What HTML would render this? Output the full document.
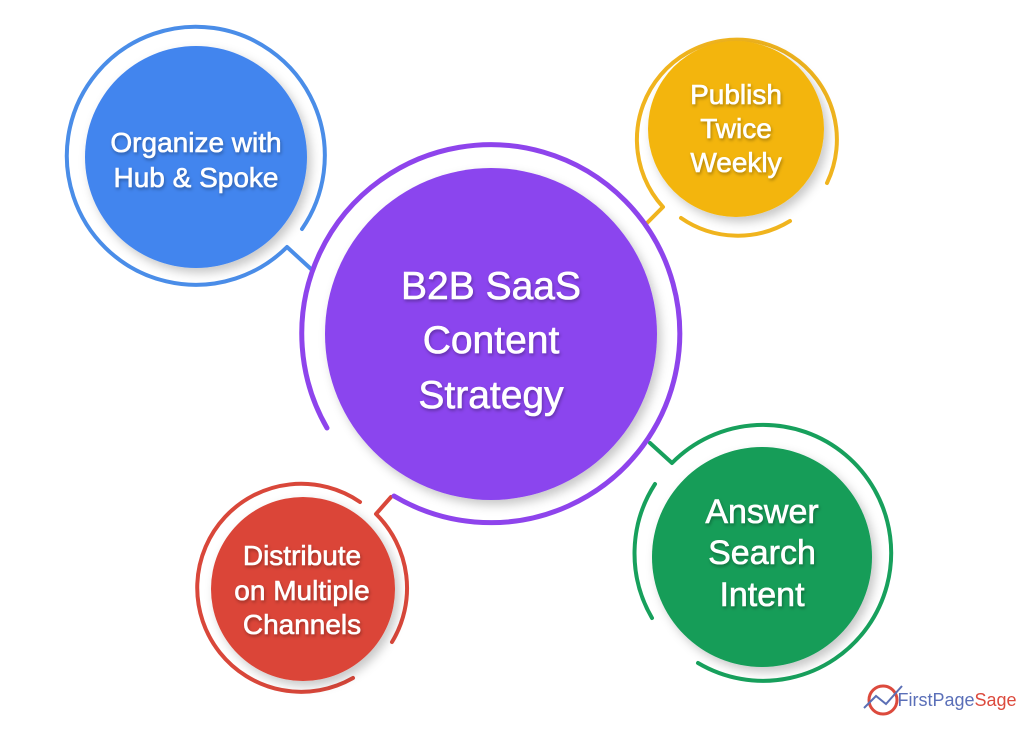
<!DOCTYPE html>
<html><head><meta charset="utf-8"><style>
html,body{margin:0;padding:0;background:#fff;}
svg text{font-family:"Liberation Sans","DejaVu Sans",sans-serif;font-weight:normal;fill:#fff;stroke:#fff;stroke-width:0.6;text-anchor:middle;}
</style></head><body>
<svg width="1024" height="724" viewBox="0 0 1024 724" xmlns="http://www.w3.org/2000/svg">
<defs>
<filter id="sh" x="-20%" y="-20%" width="150%" height="150%"><feDropShadow dx="4" dy="5" stdDeviation="5" flood-color="#000" flood-opacity="0.22"/></filter>
<filter id="ts"><feDropShadow dx="1" dy="2" stdDeviation="1.5" flood-color="#000" flood-opacity="0.3"/></filter>
</defs>
<g fill="none" stroke-width="4" stroke-linecap="round" stroke-linejoin="round">
<path d="M302,229 A129,129 0 1 0 287,247 L311,269" stroke="#4a8de8"/>
<path d="M645,225 L663,207 A100,100 0 1 1 827,183" stroke="#f0b41e"/>
<path d="M790,221 A100,100 0 0 1 681,218" stroke="#f0b41e"/>
<path d="M360,502 A104,104 0 1 0 353,678" stroke="#d9473a"/>
<path d="M392,642 A104,104 0 0 0 376,514 L391,497" stroke="#d9473a"/>
<path d="M650,443 L672,463 A128,128 0 1 1 698,663" stroke="#17a05c"/>
<path d="M652,618 A128,128 0 0 1 655,484" stroke="#17a05c"/>
<path d="M327,428 A189,189 0 1 1 394,496" stroke="#8e44ec" stroke-width="5"/>
</g>
<circle cx="196" cy="157" r="111" fill="#4285ee" filter="url(#sh)"/>
<circle cx="736" cy="129" r="88" fill="#f3b50f" filter="url(#sh)"/>
<circle cx="303" cy="589" r="92" fill="#db4437" filter="url(#sh)"/>
<circle cx="762" cy="557" r="110" fill="#129d58" filter="url(#sh)"/>
<circle cx="491" cy="334" r="166" fill="#8b44ee" filter="url(#sh)"/>
<g filter="url(#ts)">
<text x="196" y="152" font-size="28">Organize with</text>
<text x="196" y="187" font-size="28">Hub &amp; Spoke</text>
<text x="736" y="104" font-size="28">Publish</text>
<text x="736" y="138" font-size="28">Twice</text>
<text x="736" y="172" font-size="28">Weekly</text>
<text x="302" y="565" font-size="28">Distribute</text>
<text x="302" y="600" font-size="28">on Multiple</text>
<text x="302" y="634" font-size="28">Channels</text>
<text x="762" y="523" font-size="34">Answer</text>
<text x="762" y="564" font-size="34">Search</text>
<text x="762" y="606" font-size="34">Intent</text>
<text x="491" y="299" font-size="39">B2B SaaS</text>
<text x="491" y="353" font-size="39">Content</text>
<text x="491" y="408" font-size="39">Strategy</text>
</g>
<g>
<circle cx="883" cy="700" r="14" fill="none" stroke="#dc4a3d" stroke-width="3"/>
<path d="M864,708 L876,696 L886,704 L902,686" fill="none" stroke="#5b6fb5" stroke-width="2"/>
<text x="957" y="706" font-size="18" style="stroke:none;fill:#5a6fb8">FirstPage<tspan style="fill:#dc4a3d">Sage</tspan></text>
</g>
</svg>
</body></html>
